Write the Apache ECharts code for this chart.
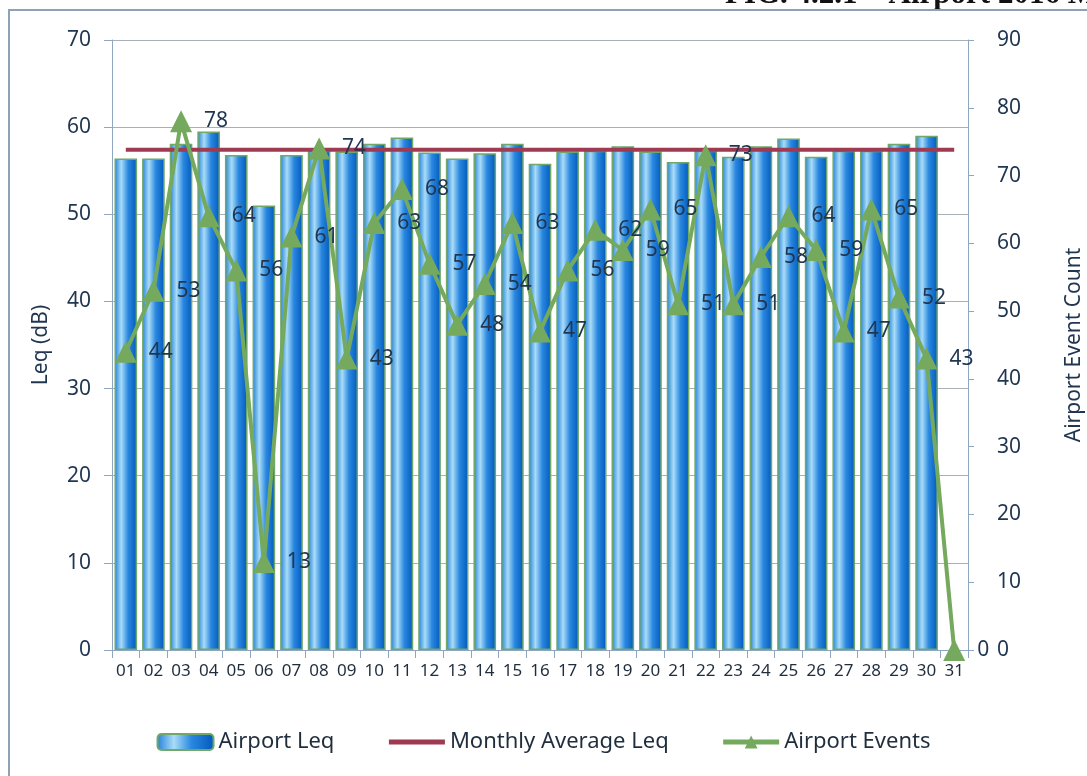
<!DOCTYPE html>
<html>
<head>
<meta charset="utf-8">
<script src="https://cdn.jsdelivr.net/npm/echarts@6/dist/echarts.min.js"></script>
<style>
  html, body { margin: 0; padding: 0; background: #fff; }
  #chart { width: 1087px; height: 776px; }
</style>
</head>
<body>
<div id="chart"></div>
<script>
  // days of the month
  const days = ['01','02','03','04','05','06','07','08','09','10','11','12','13','14','15','16',
                '17','18','19','20','21','22','23','24','25','26','27','28','29','30','31'];
  // daily airport Leq (dB), day 31 has no data
  const airportLeq = [56.4, 56.4, 58.1, 59.5, 56.8, 51.0, 56.8, 57.3, 57.2, 58.1, 58.8, 57.1, 56.4, 57.0, 58.1, 55.8,
                      57.2, 57.3, 57.8, 57.2, 56.0, 57.3, 56.6, 57.8, 58.7, 56.6, 57.3, 57.3, 58.1, 59.0, null];
  const monthlyAvg = 57.4;
  // daily event counts
  const airportEvents = [44, 53, 78, 64, 56, 13, 61, 74, 43, 63, 68, 57, 48, 54, 63, 47,
                         56, 62, 59, 65, 51, 73, 51, 58, 64, 59, 47, 65, 52, 43, 0];

  const textColor = '#1f3550';
  const fontFam = '"Noto Sans", "Open Sans", sans-serif';

  const barFill = new echarts.graphic.LinearGradient(0, 0, 1, 0, [
    { offset: 0, color: '#1f7fd6' },
    { offset: 0.3, color: '#a9dcf8' },
    { offset: 0.6, color: '#2a88e0' },
    { offset: 1, color: '#0058bc' }
  ]);

  let myChart = echarts.init(document.getElementById('chart'));
  let option = {
    animation: false,
    textStyle: { fontFamily: fontFam },
    graphic: [
      {
        type: 'rect',
        shape: { x: 9, y: 10, width: 1100, height: 800 },
        style: { fill: 'none', stroke: '#8fa1b5', lineWidth: 2 },
        z: -1
      },
      {
        type: 'text',
        left: 725, top: -21,
        style: { text: 'FIG. 4.2.1 – Airport 2016 Monthly', font: 'bold 31px "Liberation Serif", serif', fill: '#111' },
        z: -2
      }
    ],
    grid: { left: 112, right: 119, top: 40, bottom: 126, outerBoundsMode: 'none' },
    legend: {
      bottom: 18,
      left: 'center',
      itemGap: 52,
      itemWidth: 56,
      itemHeight: 16,
      textStyle: { fontSize: 22, color: '#1f2d3d', fontFamily: fontFam },
      data: [
        { name: 'Airport Leq' },
        { name: 'Monthly Average Leq', itemStyle: { opacity: 0 }, lineStyle: { width: 5 } },
        { name: 'Airport Events', lineStyle: { width: 5 } }
      ]
    },
    xAxis: {
      type: 'category',
      data: days,
      axisLine: { lineStyle: { color: '#8ea6c0' } },
      axisTick: { show: true, length: 8, lineStyle: { color: '#8ea6c0' } },
      axisLabel: { fontSize: 17, color: '#1f2d3d', margin: 13 }
    },
    yAxis: [
      {
        type: 'value',
        min: 0, max: 70, interval: 10,
        name: 'Leq (dB)',
        nameLocation: 'middle',
        nameGap: 60,
        nameTextStyle: { fontSize: 21, color: textColor },
        axisLine: { show: true, lineStyle: { color: '#8ea6c0' } },
        axisTick: { show: true, length: 8, lineStyle: { color: '#8ea6c0' } },
        axisLabel: { fontSize: 21, color: textColor, margin: 21 },
        splitLine: { lineStyle: { color: '#a9b0b8', width: 1 } }
      },
      {
        type: 'value',
        min: 0, max: 90, interval: 10,
        name: 'Airport Event Count',
        nameLocation: 'middle',
        nameGap: 96,
        nameTextStyle: { fontSize: 21, color: textColor },
        axisLine: { show: true, lineStyle: { color: '#8ea6c0' } },
        axisTick: { show: true, length: 6, lineStyle: { color: '#8ea6c0' } },
        axisLabel: { fontSize: 21, color: textColor, margin: 29, showMinLabel: true },
        splitLine: { show: false }
      }
    ],
    series: [
      {
        name: 'Airport Leq',
        type: 'bar',
        data: airportLeq,
        barCategoryGap: '18%',
        itemStyle: { color: barFill, borderColor: '#6fa86a', borderWidth: 1.5 }
      },
      {
        name: 'Monthly Average Leq',
        type: 'line',
        data: days.map(() => monthlyAvg),
        symbol: 'none',
        lineStyle: { color: '#9e3a52', width: 4 },
        itemStyle: { color: '#9e3a52' },
        z: 3
      },
      {
        name: 'Airport Events',
        type: 'line',
        yAxisIndex: 1,
        data: airportEvents,
        symbol: 'triangle',
        symbolSize: 22,
        lineStyle: { color: '#74a95e', width: 4 },
        itemStyle: { color: '#74a95e' },
        label: {
          show: true,
          position: 'right',
          distance: 12,
          fontSize: 21,
          color: textColor
        },
        z: 4
      }
    ]
  };

  myChart.setOption(option);
  window.addEventListener('resize', myChart.resize);
</script>
</body>
</html>
